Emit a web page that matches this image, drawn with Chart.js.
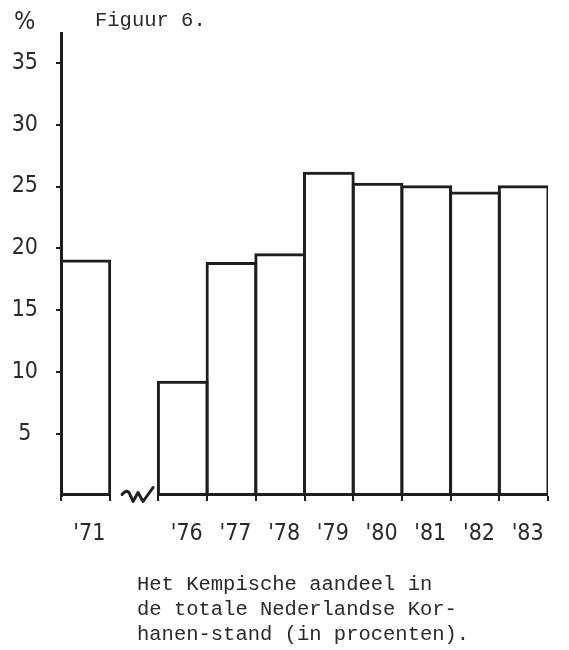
<!DOCTYPE html>
<html>
<head>
<meta charset="utf-8">
<script src="https://cdn.jsdelivr.net/npm/chart.js@4.4.1/dist/chart.umd.min.js"></script>
<style>
  body { margin: 0; background: #fff; }
  #wrap { position: relative; width: 569px; height: 650px; }
  #wrap canvas { position: absolute; left: 0; top: 0; }
  .type { position: absolute; font-family: 'Liberation Mono', 'DejaVu Sans Mono', monospace; font-size: 20.5px; color: #2a2a2a; white-space: pre; }
  .letter { position: absolute; font-family: 'Liberation Sans Narrow', 'DejaVu Sans Condensed', sans-serif; font-size: 25px; color: #2a2a2a; }
</style>
</head>
<body>
<div id="wrap">
  <canvas id="chart" width="569" height="650"></canvas>
  <div class="letter" style="left:14px; top:6px;">%</div>
  <div class="type" style="left:95px; top:9px;">Figuur 6.</div>
  <div class="type" style="left:137px; top:572px; line-height:25px;">Het Kempische aandeel in
de totale Nederlandse Kor-
hanen-stand (in procenten).</div>
</div>
<script>
  // share of the Kempen in the Dutch black grouse population, %
  const years = ["'71", "'76", "'77", "'78", "'79", "'80", "'81", "'82", "'83"];
  const shares = [19.1, 9.3, 18.9, 19.6, 26.2, 25.3, 25.1, 24.6, 25.1];
  const yTicks = [5, 10, 15, 20, 25, 30, 35];

  const ink = '#1e1e1e';
  const letterFont = "'Liberation Sans Narrow', 'DejaVu Sans Condensed', sans-serif";

  // empty slot between '71 and '76 for the axis break
  const labels = [years[0], ''].concat(years.slice(1));
  const values = [shares[0], null].concat(shares.slice(1));

  // the zigzag in the baseline where the years '72-'75 are left out
  const axisBreak = {
    id: 'axisBreak',
    afterDatasetsDraw(chart) {
      const { ctx, scales: { x, y } } = chart;
      const cx = x.getPixelForValue(labels.indexOf(''));
      const by = y.getPixelForValue(0) - 1.5;
      ctx.save();
      ctx.strokeStyle = ink;
      ctx.lineWidth = 3;
      ctx.lineJoin = 'round';
      ctx.lineCap = 'round';
      ctx.beginPath();
      ctx.moveTo(cx - 12, by);
      ctx.quadraticCurveTo(cx - 8, by - 5, cx - 5, by - 2);
      ctx.lineTo(cx - 1, by + 7);
      ctx.lineTo(cx + 4, by - 2);
      ctx.lineTo(cx + 9, by + 7);
      ctx.lineTo(cx + 19, by - 7);
      ctx.stroke();
      ctx.restore();
    }
  };

  new Chart(document.getElementById('chart'), {
    type: 'bar',
    data: {
      labels: labels,
      datasets: [{
        data: values,
        backgroundColor: 'rgba(255,255,255,0)',
        borderColor: ink,
        borderWidth: 3,
        borderSkipped: false,
        categoryPercentage: 1,
        barPercentage: 1.062
      }]
    },
    options: {
      responsive: false,
      animation: false,
      layout: { padding: { top: 33, right: 21, bottom: 0, left: 0 } },
      plugins: {
        legend: { display: false },
        tooltip: { enabled: false }
      },
      scales: {
        x: {
          offset: true,
          border: { display: false },
          grid: { display: true, drawOnChartArea: false, offset: true, tickLength: 5, color: ink, lineWidth: 2 },
          ticks: { color: '#2a2a2a', padding: 19, labelOffset: 4, font: { family: letterFont, size: 23 }, maxRotation: 0, autoSkip: false },
          afterFit: (scale) => { scale.height = 154; }
        },
        y: {
          min: 0,
          max: 37.4,
          border: { display: true, color: ink, width: 3 },
          grid: { display: true, drawOnChartArea: false, tickLength: 5, color: ink, lineWidth: 2 },
          ticks: { color: '#2a2a2a', padding: 18, crossAlign: 'center', font: { family: letterFont, size: 23 } },
          afterBuildTicks: (scale) => { scale.ticks = yTicks.map(v => ({ value: v })); },
          afterFit: (scale) => { scale.width = 61; }
        }
      }
    },
    plugins: [axisBreak]
  });
</script>
</body>
</html>
